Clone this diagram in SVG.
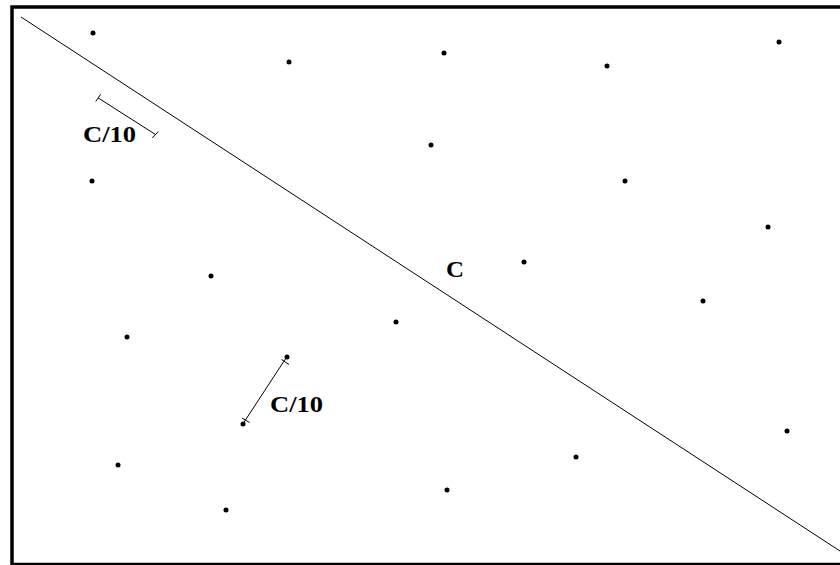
<svg xmlns="http://www.w3.org/2000/svg" width="840" height="565" viewBox="0 0 840 565">
<style>
.dot{fill:#000}
.ln{stroke:#000;stroke-width:1;fill:none}
.lbl{font-family:"Liberation Serif","Times New Roman",serif;font-weight:bold;font-size:23px;fill:#000}
</style>
<rect x="0" y="0" width="840" height="565" fill="#fff"/>
<g id="frame">
<rect x="12" y="7" width="840" height="557.5" fill="none" stroke="#000" stroke-width="3.5"/>
</g>
<g id="connectors">
<line id="lineC" class="ln" x1="21" y1="17" x2="840" y2="551"/>
<g id="bar1">
<line class="ln" x1="98.3" y1="98" x2="155.5" y2="134.5"/>
<line class="ln" x1="95.7" y1="101.5" x2="100.7" y2="94.3"/>
<line class="ln" x1="152.3" y1="138" x2="158.3" y2="131.5"/>
</g>
<g id="bar2">
<line class="ln" x1="286.7" y1="357" x2="243.3" y2="423.3"/>
<line class="ln" x1="281.5" y1="359.5" x2="289" y2="364.5"/>
<line class="ln" x1="242" y1="418" x2="249.5" y2="422.5"/>
</g>
</g>
<g id="labels">
<text class="lbl" x="83" y="142" textLength="53" lengthAdjust="spacingAndGlyphs">C/10</text>
<text class="lbl" x="270" y="412" textLength="53" lengthAdjust="spacingAndGlyphs">C/10</text>
<text class="lbl" x="446" y="277" textLength="18" lengthAdjust="spacingAndGlyphs">C</text>
</g>
<g id="points">
<circle class="dot" cx="93" cy="33" r="2.5"/>
<circle class="dot" cx="289" cy="62" r="2.5"/>
<circle class="dot" cx="444" cy="53" r="2.5"/>
<circle class="dot" cx="607" cy="66" r="2.5"/>
<circle class="dot" cx="779" cy="42" r="2.5"/>
<circle class="dot" cx="431" cy="145" r="2.5"/>
<circle class="dot" cx="92" cy="181" r="2.5"/>
<circle class="dot" cx="625" cy="181" r="2.5"/>
<circle class="dot" cx="768" cy="227" r="2.5"/>
<circle class="dot" cx="211" cy="276" r="2.5"/>
<circle class="dot" cx="524" cy="262" r="2.5"/>
<circle class="dot" cx="703" cy="301" r="2.5"/>
<circle class="dot" cx="127" cy="337" r="2.5"/>
<circle class="dot" cx="396" cy="322" r="2.5"/>
<circle class="dot" cx="287" cy="357" r="2.5"/>
<circle class="dot" cx="243" cy="424" r="2.5"/>
<circle class="dot" cx="787" cy="431" r="2.5"/>
<circle class="dot" cx="118" cy="465" r="2.5"/>
<circle class="dot" cx="576" cy="457" r="2.5"/>
<circle class="dot" cx="447" cy="490" r="2.5"/>
<circle class="dot" cx="226" cy="510" r="2.5"/>
</g>
</svg>
